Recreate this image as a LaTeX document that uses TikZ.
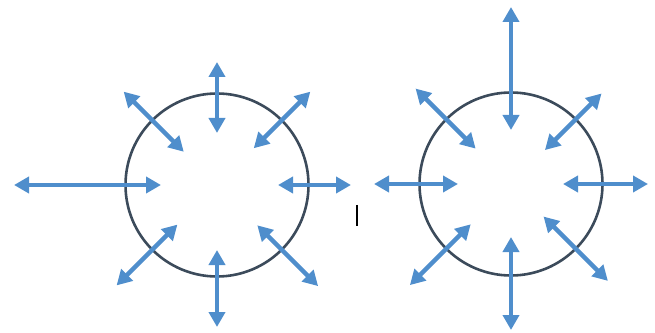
\documentclass[tikz,border=0pt]{standalone}
\usetikzlibrary{arrows.meta,calc}
\definecolor{rayblue}{HTML}{4F8ECC}
\definecolor{rimgray}{HTML}{3C4B5B}
\tikzset{
    rim/.style={circle,draw=rimgray,line width=2.6pt,minimum size=183pt,inner sep=0pt},
    ray/.style={draw=rayblue,line width=4.5pt,
        {Triangle[length=15pt,width=16pt]}-{Triangle[length=15pt,width=16pt]}},
}

\begin{document}
\begin{tikzpicture}[x=1pt,y=1pt]
    \useasboundingbox (0,0) rectangle (655,332);

    % left circle
    \node[rim] (L) at (217,147) {};
    \foreach \a/\ri/\ro [count=\i] in {0/61/134, 45/52/132, 90/52/123, 135/47/132,
                                       180/56/203, 225/56/142, 270/65/142, 315/57/143} {
        \coordinate (Lin\i) at ($(L.center)+(\a:\ri)$);
        \coordinate (Lout\i) at ($(L.center)+(\a:\ro)$);
        \draw[ray] (Lout\i) -- (Lin\i);
    }

    % right circle
    \node[rim] (R) at (511,148) {};
    \foreach \a/\ri/\ro [count=\i] in {0/52/137, 45/48/128, 90/54/177, 135/50/135,
                                       180/53/137, 225/57/143, 270/53/146, 315/46/137} {
        \coordinate (Rin\i) at ($(R.center)+(\a:\ri)$);
        \coordinate (Rout\i) at ($(R.center)+(\a:\ro)$);
        \draw[ray] (Rout\i) -- (Rin\i);
    }

    % small mark between the circles
    \coordinate (m1) at (357,127);
    \coordinate (m2) at (357,106);
    \draw[black,line width=2pt] (m1) -- (m2);
\end{tikzpicture}
\end{document}
